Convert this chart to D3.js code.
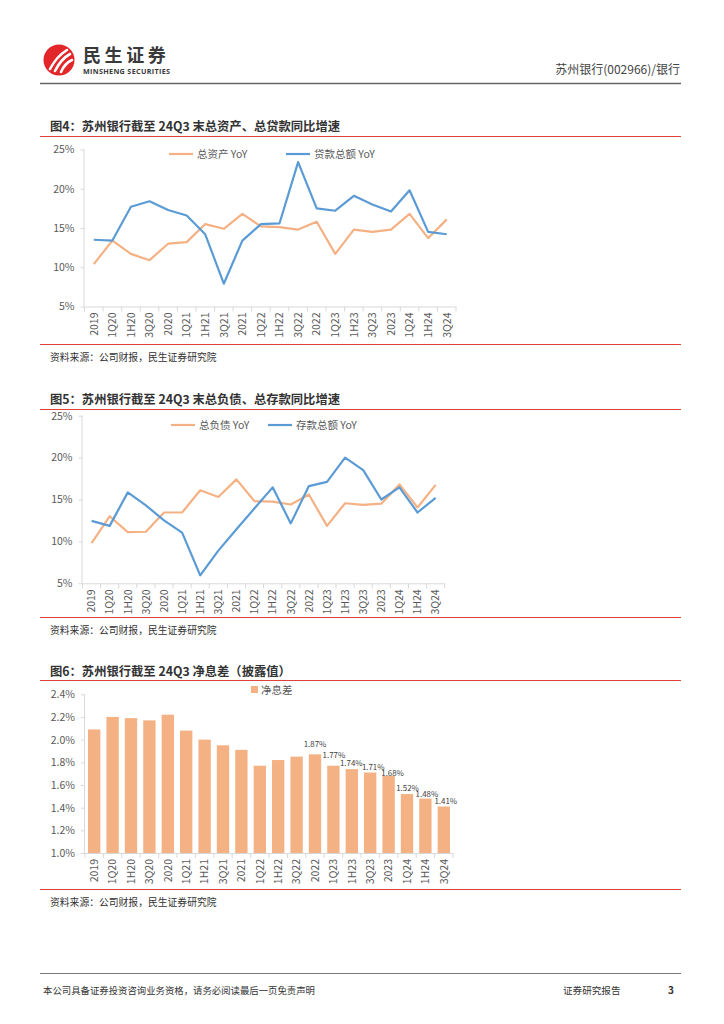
<!DOCTYPE html>
<html><head><meta charset="utf-8">
<script src="https://cdn.jsdelivr.net/npm/d3@7"></script>
<style>
body{margin:0;background:#fff;}
svg{display:block;font-family:"Noto Sans CJK SC","Noto Sans",sans-serif;}
</style></head><body>
<svg id="page" width="724" height="1024"></svg>
<script>
// ---- data ----
const categories = ["2019","1Q20","1H20","3Q20","2020","1Q21","1H21","3Q21","2021","1Q22","1H22","3Q22","2022","1Q23","1H23","3Q23","2023","1Q24","1H24","3Q24"];
const assetYoY = [10.4,13.4,11.7,10.9,13.0,13.2,15.5,14.9,16.8,15.2,15.1,14.8,15.8,11.7,14.8,14.5,14.8,16.8,13.7,16.1];
const loanYoY  = [13.5,13.4,17.7,18.4,17.3,16.6,14.2,7.9,13.4,15.5,15.6,23.4,17.5,17.2,19.1,18.0,17.1,19.8,14.5,14.2];
const liabYoY  = [9.8,13.0,11.1,11.15,13.45,13.45,16.1,15.3,17.4,14.8,14.75,14.4,15.6,11.85,14.55,14.35,14.5,16.8,14.05,16.75];
const depoYoY  = [12.45,11.85,15.85,14.3,12.5,11.05,5.95,8.9,11.45,13.95,16.45,12.15,16.6,17.1,20.0,18.5,15.0,16.45,13.45,15.2];
const nim      = [2.09,2.20,2.19,2.17,2.22,2.08,2.00,1.95,1.91,1.77,1.82,1.85,1.87,1.77,1.74,1.71,1.68,1.52,1.48,1.41];
const nimLabelFrom = "2022";
const pctTicks = [5,10,15,20,25];
const nimTicks = [1.0,1.2,1.4,1.6,1.8,2.0,2.2,2.4];

const ORANGE = "#F4B183", BLUE = "#5B9BD5", TXT = "#595959", AX = "#D9D9D9", RED = "#E0413B";
const svg = d3.select("#page");

// ---- header ----
const hdr = svg.append("g");
hdr.append("circle").attr("cx",59).attr("cy",60).attr("r",15.5).attr("fill","#E3262A");
[[-9,9,-2,-4,8,-10],[-4,11,2,-1,11,-6],[2,12,6,3,13,0]].forEach(p=>{
  hdr.append("path").attr("d",`M${59+p[0]},${60+p[1]} Q${59+p[2]},${60+p[3]} ${59+p[4]},${60+p[5]}`)
    .attr("fill","none").attr("stroke","#fff").attr("stroke-width",2.6).attr("stroke-linecap","round");
});
hdr.append("text").attr("x",83).attr("y",62).attr("font-size",18).attr("font-weight",700)
  .attr("letter-spacing",3.6).attr("fill","#3a3a3a").text("民生证券");
hdr.append("text").attr("x",83).attr("y",73.5).attr("font-size",7.2).attr("font-weight",700)
  .attr("font-family","'Open Sans',sans-serif").attr("fill","#3a3a3a").attr("textLength",87).text("MINSHENG SECURITIES");
hdr.append("text").attr("x",680).attr("y",74).attr("text-anchor","end").attr("font-size",12)
  .attr("fill","#444").text("苏州银行(002966)/银行");
hdr.append("line").attr("x1",40).attr("x2",681).attr("y1",83.5).attr("y2",83.5).attr("stroke","#666").attr("stroke-width",1.3);

// ---- footer ----
svg.append("line").attr("x1",40).attr("x2",681).attr("y1",973.5).attr("y2",973.5).attr("stroke","#777").attr("stroke-width",1.2);
svg.append("text").attr("x",43).attr("y",994).attr("font-size",9.4).attr("fill","#333").text("本公司具备证券投资咨询业务资格，请务必阅读最后一页免责声明");
svg.append("text").attr("x",563).attr("y",994).attr("font-size",9.6).attr("fill","#333").text("证券研究报告");
svg.append("text").attr("x",668).attr("y",994).attr("font-size",10).attr("font-weight",700).attr("fill","#333").text("3");

// ---- section frame ----
function frame(title, yTitle, yTop, yBottom){
  svg.append("text").attr("x",50).attr("y",yTitle).attr("font-size",12.3).attr("font-weight",700).attr("fill","#333").text(title);
  svg.append("line").attr("x1",40).attr("x2",681).attr("y1",yTop).attr("y2",yTop).attr("stroke",RED).attr("stroke-width",1.2);
  svg.append("line").attr("x1",40).attr("x2",681).attr("y1",yBottom).attr("y2",yBottom).attr("stroke",RED).attr("stroke-width",1.2);
  svg.append("text").attr("x",50).attr("y",yBottom+16).attr("font-size",9.8).attr("fill","#333").text("资料来源：公司财报，民生证券研究院");
}

function axes(x, y, ticks, fmt){
  const g = svg.append("g");
  const [x0,x1] = x.range(), [yb,yt] = y.range();
  const ya = g.append("g").attr("transform",`translate(${x0},0)`).call(d3.axisLeft(y).tickValues(ticks).tickSize(4).tickFormat(fmt));
  ya.select(".domain").attr("stroke",AX).attr("d",`M-0.5,${yt}V${yb}`);
  ya.selectAll(".tick line").attr("stroke",AX);
  ya.selectAll(".tick text").attr("x",-10).attr("fill",TXT).attr("font-size",10.5).attr("font-family","'Noto Sans CJK SC',sans-serif");
  const xa = g.append("g").attr("transform",`translate(0,${yb})`);
  xa.append("line").attr("x1",x0).attr("x2",x1).attr("y1",0.5).attr("y2",0.5).attr("stroke",AX);
  const bounds = x.domain().map(d=>x(d)).concat([x1]);
  xa.selectAll("line.tk").data(bounds).join("line").attr("class","tk")
    .attr("x1",d=>d).attr("x2",d=>d).attr("y1",0).attr("y2",5).attr("stroke",AX);
  xa.selectAll("text").data(x.domain()).join("text")
    .attr("transform",d=>`translate(${x(d)+x.bandwidth()/2+3.8},6) rotate(-90)`)
    .attr("text-anchor","end").attr("font-size",10.5).attr("fill",TXT).text(d=>d);
}

function lineChart(opt){
  const x = d3.scaleBand().domain(categories).range([opt.x0,opt.x1]);
  const y = d3.scaleLinear().domain([5,25]).range([opt.yb,opt.yt]);
  axes(x,y,pctTicks,d=>d+"%");
  const line = d3.line().x((d,i)=>x(categories[i])+x.bandwidth()/2).y(d=>y(d));
  opt.series.forEach(s=>{
    svg.append("path").datum(s.values).attr("d",line).attr("fill","none")
      .attr("stroke",s.color).attr("stroke-width",2.2).attr("stroke-linejoin","round");
  });
  opt.legend.forEach(l=>{
    svg.append("line").attr("x1",l.x).attr("x2",l.x+24).attr("y1",opt.ly).attr("y2",opt.ly).attr("stroke",l.color).attr("stroke-width",2.2);
    svg.append("text").attr("x",l.x+28).attr("y",opt.ly+3.8).attr("font-size",10.5).attr("fill",TXT).text(l.name);
  });
}

// chart 4
frame("图4：苏州银行截至 24Q3 末总资产、总贷款同比增速",131,136.5,344.5);
lineChart({x0:84.5,x1:456,yb:306.5,yt:149.5,ly:154,
  series:[{values:assetYoY,color:ORANGE},{values:loanYoY,color:BLUE}],
  legend:[{x:169,color:ORANGE,name:"总资产 YoY"},{x:286,color:BLUE,name:"贷款总额 YoY"}]});

// chart 5
frame("图5：苏州银行截至 24Q3 末总负债、总存款同比增速",404,409.5,617.5);
lineChart({x0:82.5,x1:444.7,yb:583.3,yt:415.7,ly:425,
  series:[{values:liabYoY,color:ORANGE},{values:depoYoY,color:BLUE}],
  legend:[{x:171,color:ORANGE,name:"总负债 YoY"},{x:268,color:BLUE,name:"存款总额 YoY"}]});

// chart 6
frame("图6：苏州银行截至 24Q3 净息差（披露值）",676,680.5,889.5);
(function(){
  const x = d3.scaleBand().domain(categories).range([85,453]).paddingInner(0.33).paddingOuter(0.165);
  const xb = d3.scaleBand().domain(categories).range([85,453]);
  const y = d3.scaleLinear().domain([1.0,2.4]).range([853,694.3]);
  svg.append("g").selectAll("rect").data(nim).join("rect")
    .attr("x",(d,i)=>x(categories[i])).attr("width",x.bandwidth())
    .attr("y",d=>y(d)).attr("height",d=>y(1.0)-y(d)).attr("fill",ORANGE);
  axes(xb,y,nimTicks,d=>d.toFixed(1)+"%");
  // label nudges as placed in the original figure
  const nudge = {"2022":[0,-7],"1Q23":[0.5,-7.5],"1H23":[-0.5,-3],"3Q23":[3,-2.2],"2023":[4,0],"1Q24":[0.5,-3.4],"1H24":[1.5,-1.3],"3Q24":[2,-2.6]};
  const start = categories.indexOf(nimLabelFrom);
  svg.append("g").selectAll("text").data(nim.map((v,i)=>({v,i})).filter(d=>d.i>=start)).join("text")
    .attr("x",d=>xb(categories[d.i])+xb.bandwidth()/2+(nudge[categories[d.i]]||[0,-3])[0])
    .attr("y",d=>y(d.v)+(nudge[categories[d.i]]||[0,-3])[1])
    .attr("text-anchor","middle").attr("font-size",7.9).attr("fill","#404040").text(d=>d.v.toFixed(2)+"%");
  svg.append("rect").attr("x",251).attr("y",686).attr("width",7).attr("height",7).attr("fill",ORANGE);
  svg.append("text").attr("x",261).attr("y",693.5).attr("font-size",10.5).attr("fill",TXT).text("净息差");
})();
</script>
</body></html>
